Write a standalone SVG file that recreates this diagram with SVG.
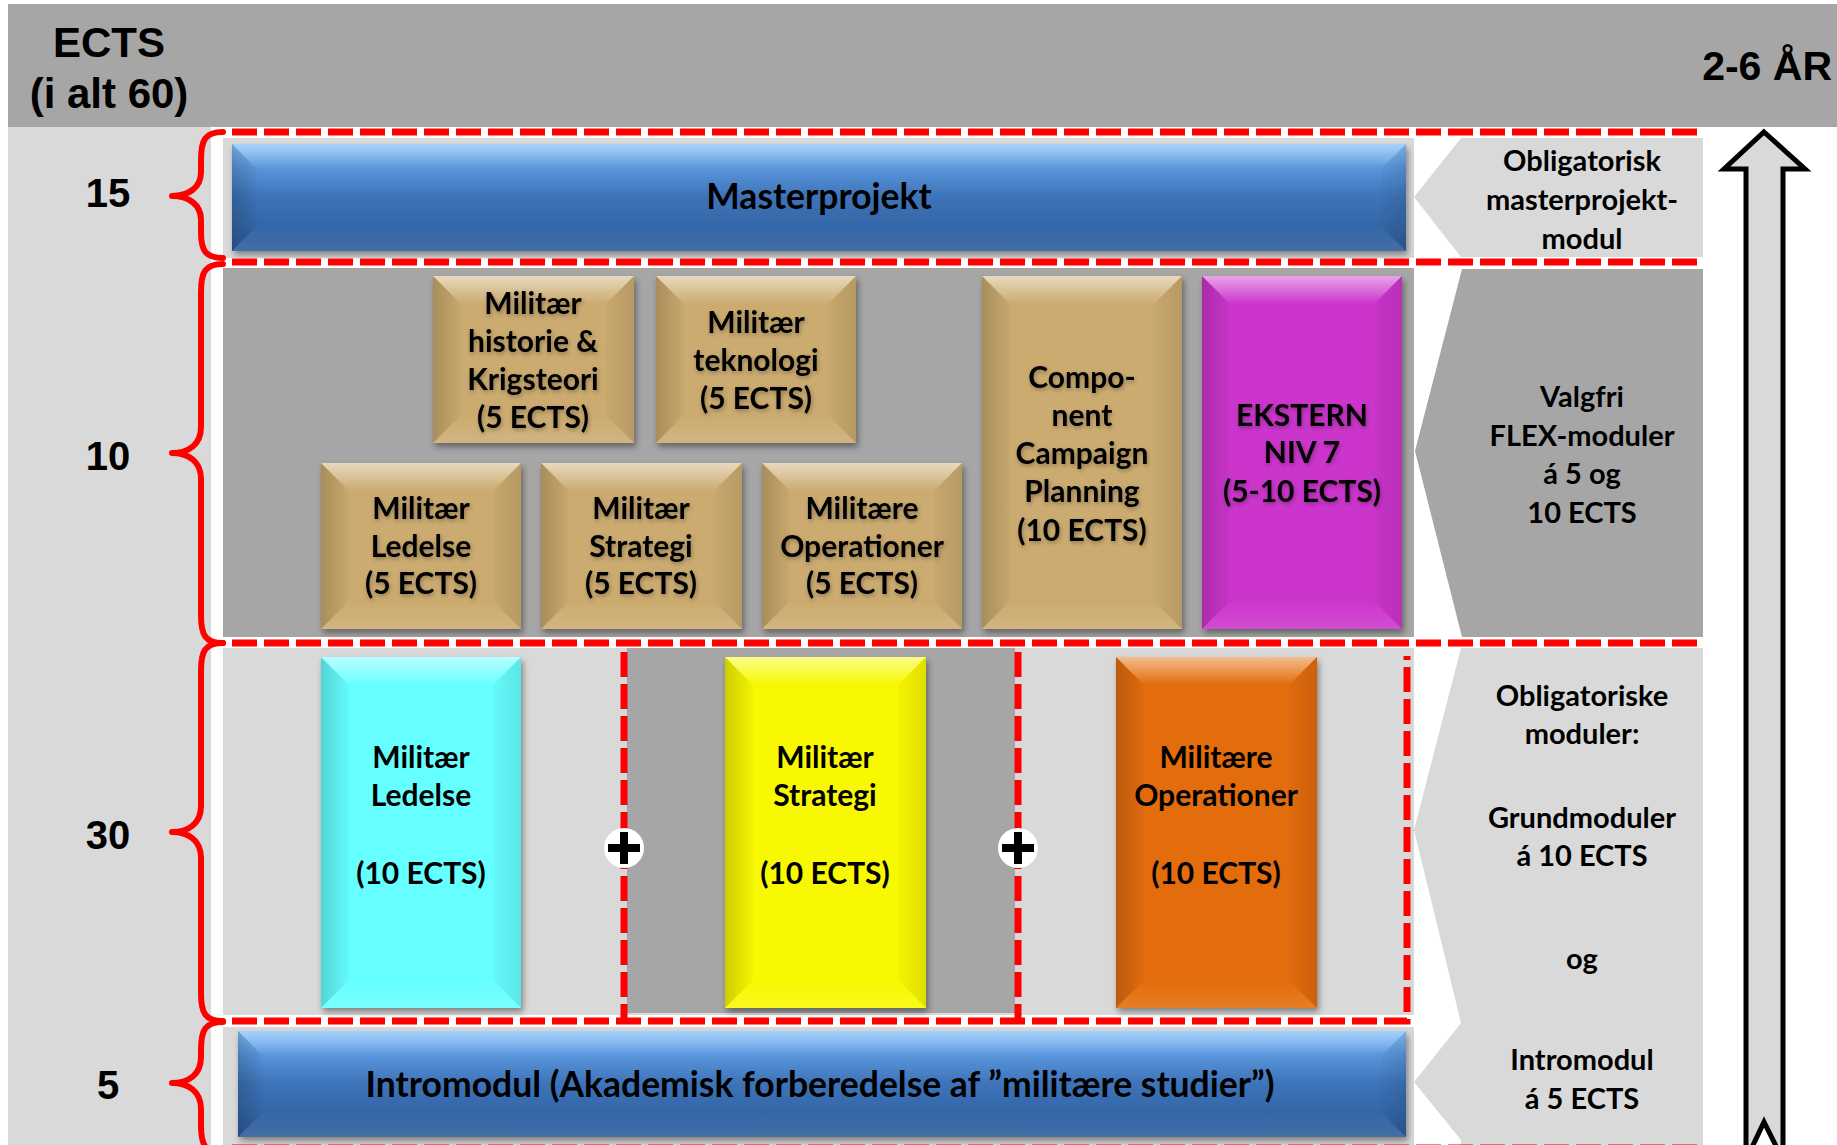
<svg xmlns="http://www.w3.org/2000/svg" width="1837" height="1145" viewBox="0 0 1837 1145">
<defs>
<style>
.bgd{fill:#a6a6a6}
.bgl{fill:#d9d9d9}
.bt{fill:url(#gTop)}
.bl{fill:url(#gLeft)}
.br{fill:url(#gRight)}
.bb{fill:url(#gBot)}
.tan{fill:#cbab6f}
.lbl{font-family:Lato,'Open Sans',sans-serif;font-weight:700;font-size:30px;text-anchor:middle;fill:#000}
.pnl{font-family:Lato,'Open Sans',sans-serif;font-weight:700;font-size:29px;text-anchor:middle;fill:#000}
.bar{font-family:Lato,'Open Sans',sans-serif;font-weight:700;font-size:35.5px;text-anchor:middle;fill:#000}
.num{font-family:'Liberation Sans',Arial,sans-serif;font-weight:700;font-size:40px;text-anchor:middle;fill:#000}
.hdr{font-family:'Liberation Sans',Arial,sans-serif;font-weight:700;font-size:42px;text-anchor:middle;fill:#000}
.dash{fill:none;stroke:#ff0000;stroke-width:7;stroke-dasharray:25 7}
.brace{fill:none;stroke:#ff0000;stroke-width:6;stroke-linejoin:round;stroke-linecap:round}
</style>
<linearGradient id="gTop" x1="0" y1="0" x2="0" y2="1"><stop offset="0" stop-color="#fff" stop-opacity="0.55"/><stop offset="1" stop-color="#fff" stop-opacity="0"/></linearGradient>
<linearGradient id="gLeft" x1="0" y1="0" x2="1" y2="0"><stop offset="0" stop-color="#000" stop-opacity="0.17"/><stop offset="1" stop-color="#000" stop-opacity="0.02"/></linearGradient>
<linearGradient id="gRight" x1="0" y1="0" x2="1" y2="0"><stop offset="0" stop-color="#000" stop-opacity="0.02"/><stop offset="1" stop-color="#000" stop-opacity="0.1"/></linearGradient>
<linearGradient id="gBot" x1="0" y1="0" x2="0" y2="1"><stop offset="0" stop-color="#fff" stop-opacity="0"/><stop offset="1" stop-color="#fff" stop-opacity="0.12"/></linearGradient>
<linearGradient id="gBlue" x1="0" y1="0" x2="0" y2="1"><stop offset="0" stop-color="#86c2f9"/><stop offset="0.22" stop-color="#5a96dc"/><stop offset="0.5" stop-color="#3d73b8"/><stop offset="1" stop-color="#2c5b9a"/></linearGradient>
<filter id="sh" x="-10%" y="-10%" width="130%" height="130%"><feDropShadow dx="2" dy="4" stdDeviation="3" flood-color="#000" flood-opacity="0.4"/></filter>
<filter id="ts" x="-10%" y="-30%" width="120%" height="160%"><feDropShadow dx="1" dy="2" stdDeviation="2" flood-color="#000" flood-opacity="0.3"/></filter>
</defs>

<g id="background">
<rect x="0" y="0" width="1837" height="1145" fill="#fff"/>
<rect class="bgd" x="8" y="4" width="1829" height="123"/>
<rect class="bgl" x="8" y="127" width="203" height="1018"/>
<rect class="bgl" x="223" y="138" width="1191" height="120"/>
<rect class="bgd" x="223" y="268" width="1191" height="369"/>
<rect class="bgl" x="223" y="648" width="1191" height="367"/>
<rect class="bgd" x="627" y="648" width="388" height="365"/>
<rect class="bgl" x="223" y="1027" width="1191" height="118"/>
</g>

<g id="header">
<text class="hdr" x="109" y="57">ECTS</text>
<text class="hdr" x="109" y="108">(i alt 60)</text>
<text class="hdr" x="1832" y="80" style="text-anchor:end;font-size:41px">2-6 ÅR</text>
</g>

<g id="ects-numbers">
<text class="num" x="108" y="207">15</text>
<text class="num" x="108" y="470">10</text>
<text class="num" x="108" y="849">30</text>
<text class="num" x="108" y="1099">5</text>
</g>

<g id="braces">
<path class="brace" d="M223 132 C205 132 201 140 201 160 L201 172 C201 188 188 196 172 196 C188 196 201 204 201 220 L201 232 C201 250 205 258 223 258"/>
<path class="brace" d="M223 264 C205 264 201 272 201 292 L201 427 C201 445 188 453 172 453 C188 453 201 461 201 479 L201 615 C201 635 205 643 223 643"/>
<path class="brace" d="M223 643 C205 643 201 651 201 671 L201 806 C201 824 188 832 172 832 C188 832 201 840 201 858 L201 993 C201 1013 205 1021 223 1021"/>
<path class="brace" d="M223 1022 C205 1022 201 1030 201 1050 L201 1057 C201 1075 188 1083 172 1083 C188 1083 201 1091 201 1109 L201 1125 C201 1145 205 1153 223 1153"/>
</g>

<g id="panels">
<polygon class="bgl" points="1461,138 1703,138 1703,257 1461,257 1414,197"/>
<polygon class="bgd" points="1462,269 1703,269 1703,637 1462,637 1415,451"/>
<polygon class="bgl" points="1461,648 1703,648 1703,1023 1461,1023 1414,830"/>
<polygon class="bgl" points="1461,1023 1703,1023 1703,1145 1461,1145 1461,1140 1414,1082"/>
<text class="pnl" x="1582" y="171">Obligatorisk</text>
<text class="pnl" x="1582" y="210">masterprojekt-</text>
<text class="pnl" x="1582" y="249">modul</text>
<text class="pnl" x="1582" y="407">Valgfri</text>
<text class="pnl" x="1582" y="446">FLEX-moduler</text>
<text class="pnl" x="1582" y="484">á 5 og</text>
<text class="pnl" x="1582" y="523">10 ECTS</text>
<text class="pnl" x="1582" y="706">Obligatoriske</text>
<text class="pnl" x="1582" y="744">moduler:</text>
<text class="pnl" x="1582" y="828">Grundmoduler</text>
<text class="pnl" x="1582" y="866">á 10 ECTS</text>
<text class="pnl" x="1582" y="969">og</text>
<text class="pnl" x="1582" y="1070">Intromodul</text>
<text class="pnl" x="1582" y="1109">á 5 ECTS</text>
</g>

<g id="timeline-arrow">
<polygon points="1764,132 1805,169 1783,169 1783,1160 1764,1122 1746,1160 1746,169 1724,169" fill="#d9d9d9" stroke="#000" stroke-width="5" stroke-linejoin="miter"/>
</g>

<g id="masterprojekt">
<g filter="url(#sh)">
<rect x="232" y="144" width="1174" height="107" fill="url(#gBlue)"/>
<polygon class="bt" opacity="0.5" points="232,144 1406,144 1381,169 257,169"/>
<polygon class="bl" points="232,144 257,169 257,226 232,251"/>
<polygon class="br" points="1406,144 1406,251 1381,226 1381,169"/>
<polygon class="bb" points="232,251 257,226 1381,226 1406,251"/>
</g>
<text class="bar" x="819" y="209">Masterprojekt</text>
</g>

<g id="flex-historie">
<g filter="url(#sh)">
<rect class="tan" x="433" y="276" width="201" height="167"/>
<polygon class="bt" points="433,276 634,276 606,304 461,304"/>
<polygon class="bl" points="433,276 461,304 461,415 433,443"/>
<polygon class="br" points="634,276 634,443 606,415 606,304"/>
<polygon class="bb" points="433,443 461,415 606,415 634,443"/>
</g>
<g filter="url(#ts)">
<text class="lbl" x="533" y="314">Militær</text>
<text class="lbl" x="533" y="352">historie &amp;</text>
<text class="lbl" x="533" y="390">Krigsteori</text>
<text class="lbl" x="533" y="428">(5 ECTS)</text>
</g>
</g>

<g id="flex-teknologi">
<g filter="url(#sh)">
<rect class="tan" x="656" y="276" width="200" height="167"/>
<polygon class="bt" points="656,276 856,276 828,304 684,304"/>
<polygon class="bl" points="656,276 684,304 684,415 656,443"/>
<polygon class="br" points="856,276 856,443 828,415 828,304"/>
<polygon class="bb" points="656,443 684,415 828,415 856,443"/>
</g>
<g filter="url(#ts)">
<text class="lbl" x="756" y="333">Militær</text>
<text class="lbl" x="756" y="371">teknologi</text>
<text class="lbl" x="756" y="409">(5 ECTS)</text>
</g>
</g>

<g id="flex-ledelse">
<g filter="url(#sh)">
<rect class="tan" x="321" y="463" width="200" height="166"/>
<polygon class="bt" points="321,463 521,463 493,491 349,491"/>
<polygon class="bl" points="321,463 349,491 349,601 321,629"/>
<polygon class="br" points="521,463 521,629 493,601 493,491"/>
<polygon class="bb" points="321,629 349,601 493,601 521,629"/>
</g>
<g filter="url(#ts)">
<text class="lbl" x="421" y="519">Militær</text>
<text class="lbl" x="421" y="557">Ledelse</text>
<text class="lbl" x="421" y="594">(5 ECTS)</text>
</g>
</g>

<g id="flex-strategi">
<g filter="url(#sh)">
<rect class="tan" x="541" y="463" width="201" height="166"/>
<polygon class="bt" points="541,463 742,463 714,491 569,491"/>
<polygon class="bl" points="541,463 569,491 569,601 541,629"/>
<polygon class="br" points="742,463 742,629 714,601 714,491"/>
<polygon class="bb" points="541,629 569,601 714,601 742,629"/>
</g>
<g filter="url(#ts)">
<text class="lbl" x="641" y="519">Militær</text>
<text class="lbl" x="641" y="557">Strategi</text>
<text class="lbl" x="641" y="594">(5 ECTS)</text>
</g>
</g>

<g id="flex-operationer">
<g filter="url(#sh)">
<rect class="tan" x="762" y="463" width="200" height="166"/>
<polygon class="bt" points="762,463 962,463 934,491 790,491"/>
<polygon class="bl" points="762,463 790,491 790,601 762,629"/>
<polygon class="br" points="962,463 962,629 934,601 934,491"/>
<polygon class="bb" points="762,629 790,601 934,601 962,629"/>
</g>
<g filter="url(#ts)">
<text class="lbl" x="862" y="519">Militære</text>
<text class="lbl" x="862" y="557">Operationer</text>
<text class="lbl" x="862" y="594">(5 ECTS)</text>
</g>
</g>

<g id="flex-component">
<g filter="url(#sh)">
<rect class="tan" x="982" y="276" width="200" height="353"/>
<polygon class="bt" points="982,276 1182,276 1154,304 1010,304"/>
<polygon class="bl" points="982,276 1010,304 1010,601 982,629"/>
<polygon class="br" points="1182,276 1182,629 1154,601 1154,304"/>
<polygon class="bb" points="982,629 1010,601 1154,601 1182,629"/>
</g>
<g filter="url(#ts)">
<text class="lbl" x="1082" y="388">Compo-</text>
<text class="lbl" x="1082" y="426">nent</text>
<text class="lbl" x="1082" y="464">Campaign</text>
<text class="lbl" x="1082" y="502">Planning</text>
<text class="lbl" x="1082" y="541">(10 ECTS)</text>
</g>
</g>

<g id="flex-ekstern">
<g filter="url(#sh)">
<rect x="1202" y="276" width="200" height="353" fill="#cc35cc"/>
<polygon class="bt" points="1202,276 1402,276 1374,304 1230,304"/>
<polygon class="bl" points="1202,276 1230,304 1230,601 1202,629"/>
<polygon class="br" points="1402,276 1402,629 1374,601 1374,304"/>
<polygon class="bb" points="1202,629 1230,601 1374,601 1402,629"/>
</g>
<g filter="url(#ts)">
<text class="lbl" x="1302" y="426">EKSTERN</text>
<text class="lbl" x="1302" y="463">NIV 7</text>
<text class="lbl" x="1302" y="502">(5-10 ECTS)</text>
</g>
</g>

<g id="grund-ledelse">
<g filter="url(#sh)">
<rect x="321" y="657" width="200" height="351" fill="#66ffff"/>
<polygon class="bt" points="321,657 521,657 493,685 349,685"/>
<polygon class="bl" points="321,657 349,685 349,980 321,1008"/>
<polygon class="br" points="521,657 521,1008 493,980 493,685"/>
<polygon class="bb" points="321,1008 349,980 493,980 521,1008"/>
</g>
<text class="lbl" x="421" y="768">Militær</text>
<text class="lbl" x="421" y="806">Ledelse</text>
<text class="lbl" x="421" y="884">(10 ECTS)</text>
</g>

<g id="grund-strategi">
<g filter="url(#sh)">
<rect x="725" y="657" width="201" height="351" fill="#f8f800"/>
<polygon class="bt" points="725,657 926,657 898,685 753,685"/>
<polygon class="bl" points="725,657 753,685 753,980 725,1008"/>
<polygon class="br" points="926,657 926,1008 898,980 898,685"/>
<polygon class="bb" points="725,1008 753,980 898,980 926,1008"/>
</g>
<text class="lbl" x="825" y="768">Militær</text>
<text class="lbl" x="825" y="806">Strategi</text>
<text class="lbl" x="825" y="884">(10 ECTS)</text>
</g>

<g id="grund-operationer">
<g filter="url(#sh)">
<rect x="1116" y="657" width="201" height="351" fill="#e36c0a"/>
<polygon class="bt" points="1116,657 1317,657 1289,685 1144,685"/>
<polygon class="bl" points="1116,657 1144,685 1144,980 1116,1008"/>
<polygon class="br" points="1317,657 1317,1008 1289,980 1289,685"/>
<polygon class="bb" points="1116,1008 1144,980 1289,980 1317,1008"/>
</g>
<text class="lbl" x="1216" y="768">Militære</text>
<text class="lbl" x="1216" y="806">Operationer</text>
<text class="lbl" x="1216" y="884">(10 ECTS)</text>
</g>

<g id="intromodul">
<g filter="url(#sh)">
<rect x="238" y="1031" width="1168" height="106" fill="url(#gBlue)"/>
<polygon class="bt" opacity="0.5" points="238,1031 1406,1031 1381,1056 263,1056"/>
<polygon class="bl" points="238,1031 263,1056 263,1112 238,1137"/>
<polygon class="br" points="1406,1031 1406,1137 1381,1112 1381,1056"/>
<polygon class="bb" points="238,1137 263,1112 1381,1112 1406,1137"/>
</g>
<text class="bar" x="820" y="1097">Intromodul (Akademisk forberedelse af ”militære studier”)</text>
</g>

<g id="connectors">
<path class="dash" d="M232 132 H1703"/>
<path class="dash" d="M232 262 H1703"/>
<path class="dash" d="M232 643 H1703"/>
<path class="dash" d="M232 1021 H1407 V656"/>
<path class="dash" d="M624 652 V1021"/>
<path class="dash" d="M1018 652 V1021"/>
<path class="dash" d="M232 1148 H1703"/>
<g id="plus-1">
<circle cx="624" cy="848" r="20" fill="#fff"/>
<rect x="608" y="844" width="32" height="8" fill="#000"/>
<rect x="620" y="832" width="8" height="32" fill="#000"/>
</g>
<g id="plus-2">
<circle cx="1018" cy="848" r="20" fill="#fff"/>
<rect x="1002" y="844" width="32" height="8" fill="#000"/>
<rect x="1014" y="832" width="8" height="32" fill="#000"/>
</g>
</g>
</svg>
